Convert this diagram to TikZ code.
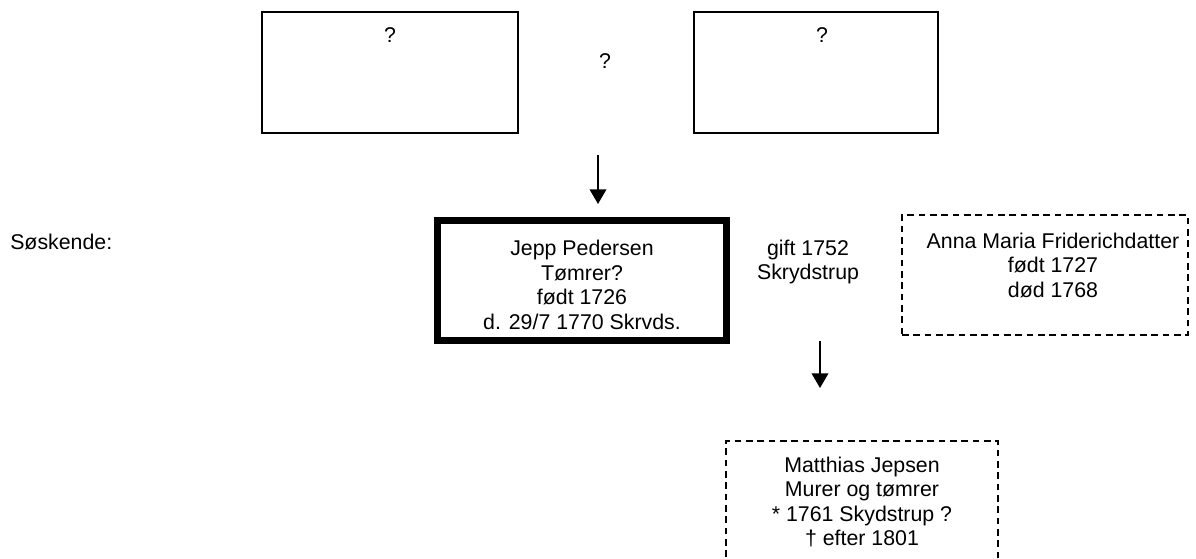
\documentclass[tikz,border=0pt]{standalone}
\usepackage{fontspec}
\setmainfont{Liberation Sans}
\usetikzlibrary{arrows.meta}
\begin{document}
\begin{tikzpicture}[x=0.75pt,y=-0.75pt,
  txt/.style={align=center,inner sep=0pt,font=\fontsize{16pt}{18.4pt}\selectfont},
  thinbox/.style={draw,line width=1.1pt,rectangle,inner sep=0pt},
  thickbox/.style={draw,line width=5.5pt,rectangle,inner sep=0pt},
  dashbox/.style={draw,line width=1.1pt,dash pattern=on 5pt off 3.5pt,rectangle,inner sep=0pt},
  arr/.style={line width=1.1pt,-{Triangle[length=11pt,width=12.5pt]}}]
\useasboundingbox (0,0) rectangle (1196,558);
% top boxes
\node[thinbox,minimum width=192pt,minimum height=90.75pt] (f1) at (390,72.5) {};
\node[txt] (q1) at (390,35) {?};
\node[txt] (q2) at (605,61) {?};
\node[thinbox,minimum width=183pt,minimum height=90.75pt] (f2) at (816,72.5) {};
\node[txt] (q3) at (822,35) {?};
% arrow 1
\coordinate (a1s) at (598,155);
\coordinate (a1e) at (598,204);
\draw[arr] (a1s) -- (a1e);
% siblings
\node[txt,anchor=west] (sos) at (10,242) {Søskende:};
% Jepp
\node[thickbox,minimum width=216.75pt,minimum height=90pt,txt] (jepp) at (582,280.5) {};
\node[txt] (jt) at (582,285) {Jepp Pedersen\\Tømrer?\\født 1726\\d. 29/7 1770 Skrvds.};
% marriage
\node[txt] (gift) at (808,262) {gift 1752\\Skrydstrup};
% Anna
\node[dashbox,minimum width=214.5pt,minimum height=90pt] (anna) at (1045,275) {};
\node[txt] (at) at (1053,265) {Anna Maria Friderichdatter\\født 1727\\død 1768};
% arrow 2
\coordinate (a2s) at (820,341);
\coordinate (a2e) at (820,388);
\draw[arr] (a2s) -- (a2e);
% Matthias
\node[dashbox,minimum width=204pt,minimum height=105pt] (matt) at (862,511) {};
\node[txt] (mt) at (862,502) {Matthias Jepsen\\Murer og tømrer\\* 1761 Skydstrup ?\\† efter 1801};
\end{tikzpicture}
\end{document}
